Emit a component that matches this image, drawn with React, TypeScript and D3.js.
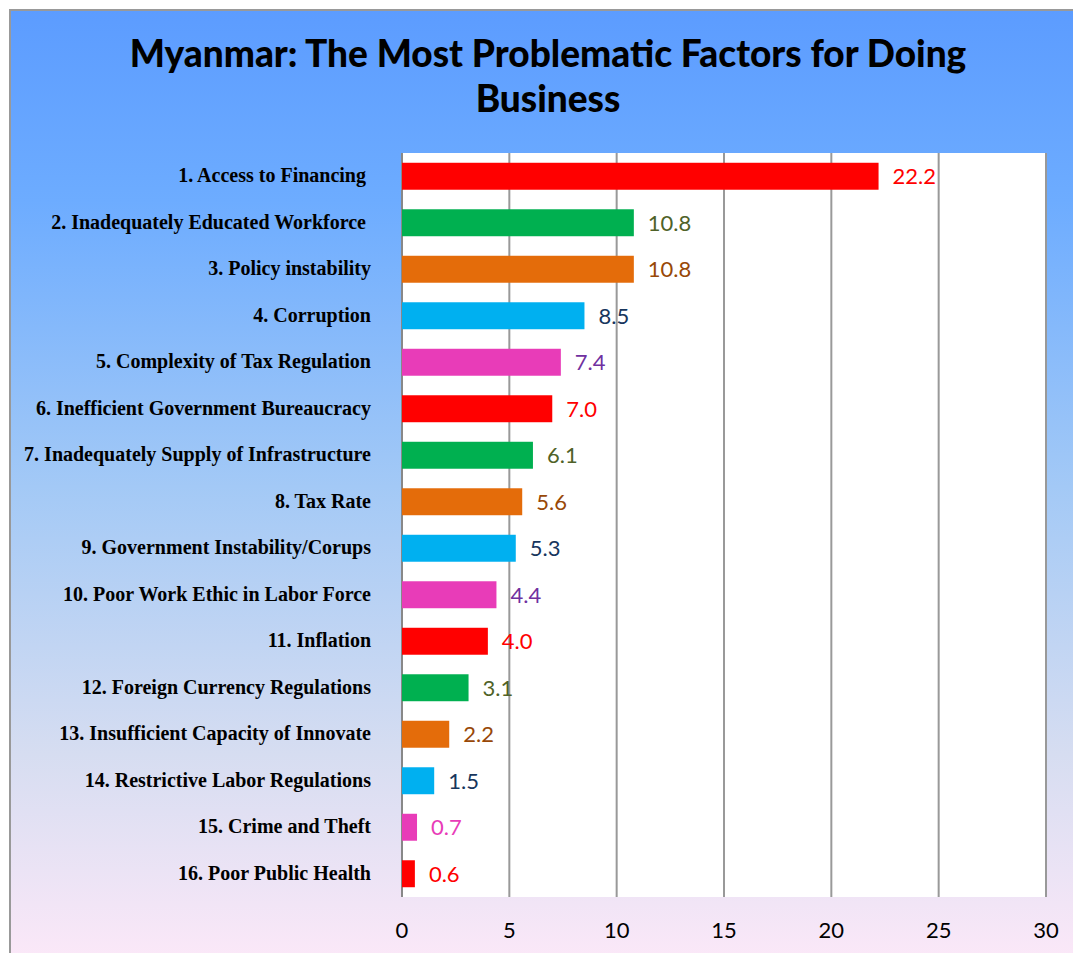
import React from "react";
import * as d3 from "d3";

const categories = [
  "1. Access to Financing ",
  "2. Inadequately Educated Workforce ",
  "3. Policy instability",
  "4. Corruption",
  "5. Complexity of Tax Regulation",
  "6. Inefficient Government Bureaucracy",
  "7. Inadequately Supply of Infrastructure",
  "8. Tax Rate",
  "9. Government Instability/Corups",
  "10. Poor Work Ethic in Labor Force",
  "11. Inflation",
  "12. Foreign Currency Regulations",
  "13. Insufficient Capacity of Innovate",
  "14. Restrictive Labor Regulations",
  "15. Crime and Theft",
  "16. Poor Public Health",
];
const values = [22.2, 10.8, 10.8, 8.5, 7.4, 7.0, 6.1, 5.6, 5.3, 4.4, 4.0, 3.1, 2.2, 1.5, 0.7, 0.6];
const ticks = [0, 5, 10, 15, 20, 25, 30];

const barColors = ["#FF0000", "#00B050", "#E46C0A", "#00B0F0", "#E83CB8"];
const labelColors = ["#FF0000", "#4F6228", "#984807", "#17365D", "#7030A0"];

const W = 1073, H = 953;
const plot = { left: 402, right: 1046, top: 153, bottom: 897 };
const sans = "Lato, 'Open Sans', sans-serif";

export default function App() {
  const x = d3.scaleLinear().domain([0, 30]).range([plot.left, plot.right]);
  const y = d3.scaleBand<string>()
    .domain(categories)
    .range([plot.top, plot.bottom])
    .paddingInner(0.42)
    .paddingOuter(0.21);

  return (
    <svg width={W} height={H} style={{ position: "fixed", left: 0, top: 0 }}>
      <defs>
        <linearGradient id="bg" x1="0" y1="0" x2="0" y2="1">
          <stop offset="0" stopColor="#5C9CFF" />
          <stop offset="0.2" stopColor="#6DACFF" />
          <stop offset="0.5" stopColor="#A3C9F6" />
          <stop offset="0.78" stopColor="#D6DDF1" />
          <stop offset="1" stopColor="#FCE8F8" />
        </linearGradient>
      </defs>
      <rect x={0} y={0} width={W} height={H} fill="#fff" />
      <rect x={10} y={10} width={W} height={H} fill="url(#bg)" stroke="#999" strokeWidth={2} />

      <text x={548} y={67} textAnchor="middle" fontFamily={sans} fontWeight={900} fontSize={37}>
        Myanmar: The Most Problematic Factors for Doing
      </text>
      <text x={548} y={112} textAnchor="middle" fontFamily={sans} fontWeight={900} fontSize={37}>
        Business
      </text>

      <rect x={plot.left} y={plot.top} width={plot.right - plot.left} height={plot.bottom - plot.top} fill="#fff" />
      {ticks.map(t => (
        <line key={t} x1={x(t)} x2={x(t)} y1={plot.top} y2={plot.bottom} stroke="#999" strokeWidth={2} />
      ))}
      <line x1={plot.left} x2={plot.left} y1={plot.top} y2={plot.bottom} stroke="#888" strokeWidth={2} />

      {categories.map((c, i) => {
        const yy = y(c)!;
        const cy = yy + y.bandwidth() / 2;
        return (
          <g key={c}>
            <rect x={x(0)} y={yy} width={x(values[i]) - x(0)} height={y.bandwidth()} fill={barColors[i % 5]} />
            <text x={371} y={cy + 6} textAnchor="end" fontFamily="'Liberation Serif', 'Times New Roman', serif"
              fontWeight="bold" fontSize={20} style={{ whiteSpace: "pre" }}>
              {c}
            </text>
            <text x={x(values[i]) + 14} y={cy + 8} fontFamily={sans} fontSize={22}
              fill={i === 14 ? "#E83CB8" : labelColors[i % 5]}>
              {values[i].toFixed(1)}
            </text>
          </g>
        );
      })}

      {ticks.map(t => (
        <text key={"l" + t} x={x(t)} y={938} textAnchor="middle" fontFamily={sans} fontSize={22}>
          {t}
        </text>
      ))}
    </svg>
  );
}
